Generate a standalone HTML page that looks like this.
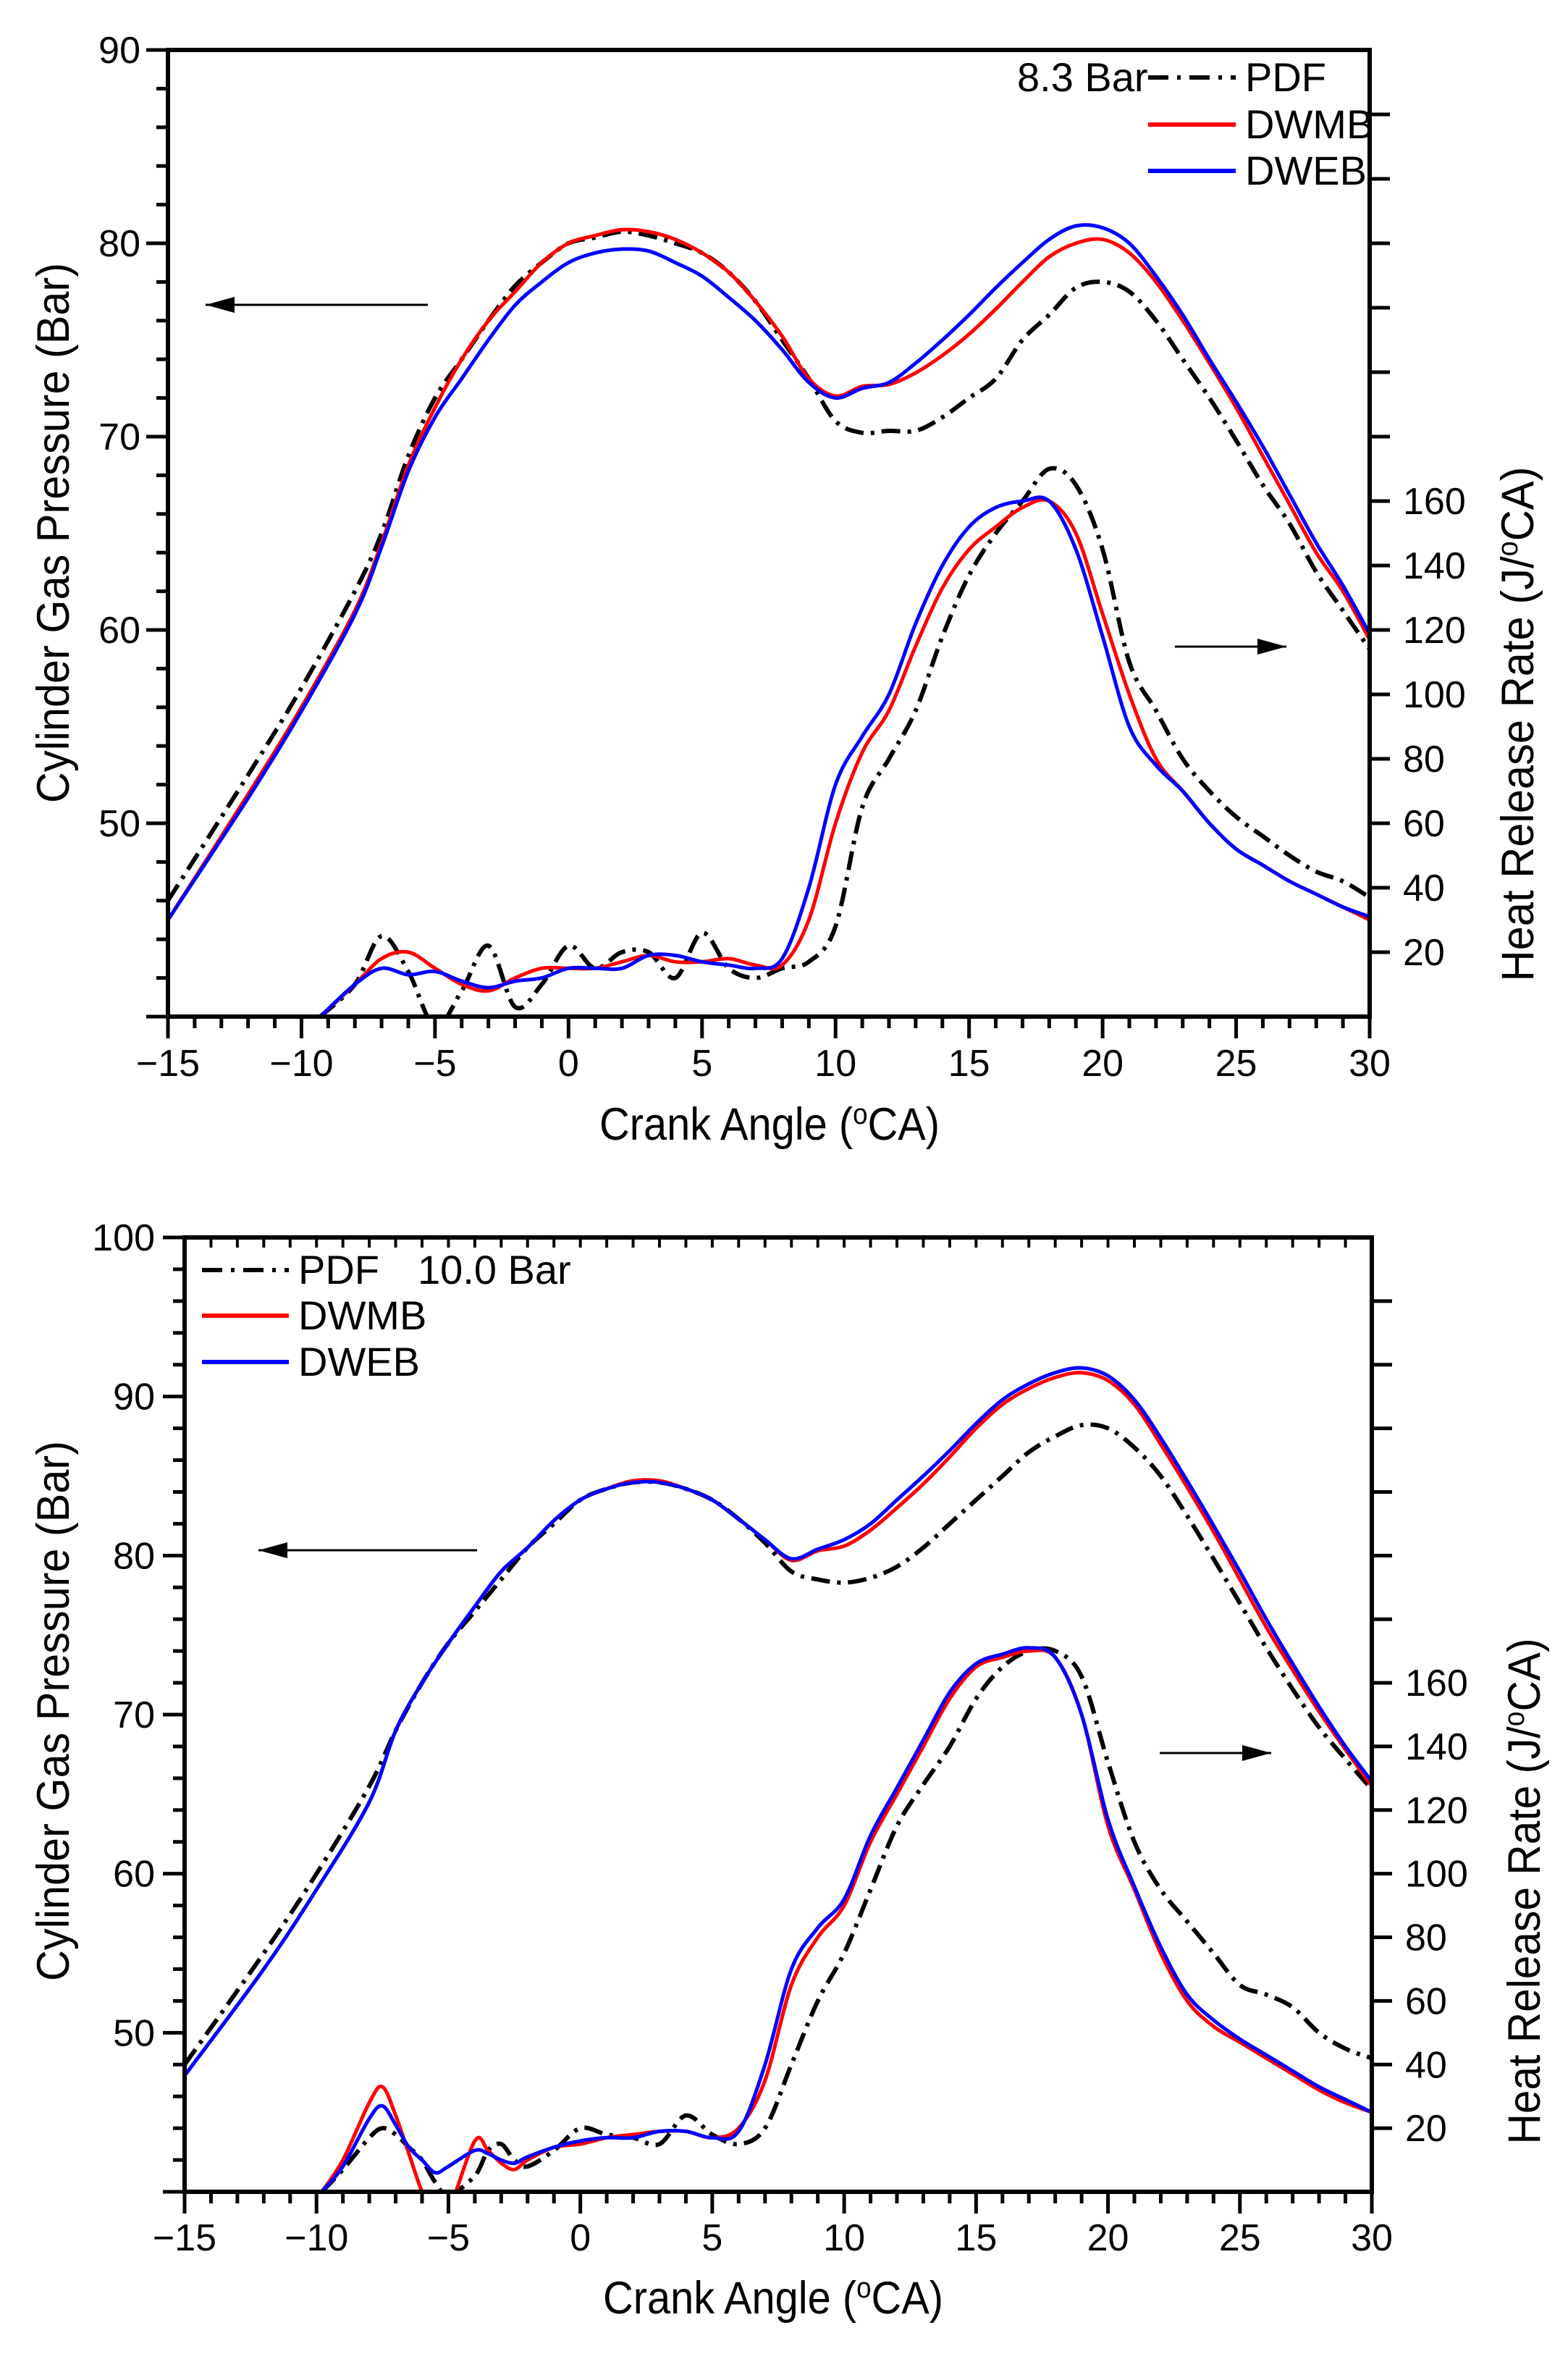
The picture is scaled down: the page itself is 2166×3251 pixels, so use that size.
<!DOCTYPE html>
<html><head><meta charset="utf-8"><style>
html,body{margin:0;padding:0;background:#fff;}
svg{display:block;font-family:"Liberation Sans Narrow","Liberation Sans",Arial,sans-serif;}
</style></head><body>
<svg id="fig" width="2166" height="3251" viewBox="0 0 2166 3251" xmlns="http://www.w3.org/2000/svg"></svg>
<script>
// ---------- shared data ----------
const xTickLabels = [-15,-10,-5,0,5,10,15,20,25,30];
const hrrTickLabels = [20,40,60,80,100,120,140,160];

// ---------- chart A (8.3 bar) ----------
const aAngles = [-15,-12,-10,-8,-7,-6,-5,-4,-3,-2,-1,0,1,2,3,4,5,6,7,8,9,10,11,12,13,14,15,16,17,18,19,20,21,22,23,24,25,26,27,28,29,30];
const aPdfP   = [46,52.5,57,62,65,69,72,74,76,77.8,79,80,80.3,80.6,80.4,80,79.5,78.5,77,75,73,70.8,70.2,70.3,70.3,71,72,73,75,76.3,77.7,78,77.5,76,74,72,69.8,67.5,65.5,63,61,59];
const aDwmbP  = [45,51.5,56,61,64.5,68.5,71.5,74,76,77.5,79,80,80.4,80.7,80.6,80.2,79.5,78.5,77,75.2,73,72.1,72.6,72.7,73.3,74.2,75.3,76.6,78,79.3,80,80.2,79.5,78,76,73.8,71.5,69,66.5,64,62,59.5];
const aDwebP  = [45,51.3,55.8,60.8,64.3,68.2,71,73,75,76.8,78,79,79.5,79.7,79.6,79,78.3,77.2,76,74.5,72.8,72,72.5,72.8,73.8,75,76.3,77.7,79,80.2,80.9,80.8,80,78.3,76.3,74,71.8,69.5,67,64.5,62.3,59.8];
const aHAngles = [-9.3,-8,-7,-6,-5,-4,-3,-2,-1,0,1,2,3,4,5,6,7,8,9,10,11,12,13,14,15,16,17,18,19,20,21,22,23,24,25,26,27,28,29,30];
const aPdfH    = [0,10,25,14,-3,8,22,3,10,22,15,20,20,12,26,15,12,15,17,28,65,80,95,118,137,150,160,170,165,145,110,95,80,70,62,56,50,45,42,37];
const aDwmbH   = [0,10,18,20,15,10,8,12,15,15,15,17,19,17,17,18,16,16,30,60,82,95,115,133,145,152,158,160,150,125,100,80,70,60,52,47,42,38,34,30];
const aDwebH   = [0,10,15,13,14,11,9,11,12,15,15,15,19,19,17,16,15,18,40,72,87,100,122,140,152,158,160,160,145,118,90,78,70,60,52,47,42,38,34,31];

// ---------- chart B (10.0 bar) ----------
const bAngles = [-15,-12,-10,-8,-7,-6,-5,-4,-3,-2,-1,0,1,2,3,4,5,6,7,8,9,10,11,12,13,14,15,16,17,18,19,20,21,22,23,24,25,26,27,28,29,30];
const bPdfP   = [48,55,60,65.5,69,72,74.5,76.5,78.5,80.5,82,83.5,84.2,84.6,84.6,84.2,83.5,82.3,80.8,79,78.5,78.3,78.6,79.3,80.5,82,83.5,85,86.5,87.5,88.2,88,86.8,85,82.5,79.8,77,74.2,71.6,69.2,67.2,65.3];
const bDwmbP  = [47.3,54,59,64.5,69,72,74.5,76.8,79,80.5,82.2,83.5,84.2,84.7,84.7,84.2,83.5,82.3,81,79.7,80.3,80.6,81.6,83,84.5,86.2,88,89.5,90.5,91.2,91.5,91,89.5,87,84.3,81.5,78.5,75.5,72.8,70.2,67.8,65.5];
const bDwebP  = [47.3,54,59,64.5,69,72,74.5,76.8,79,80.5,82.2,83.5,84.2,84.6,84.6,84.2,83.5,82.3,81,79.8,80.4,81,82,83.5,85,86.6,88.3,89.8,90.8,91.5,91.8,91.3,89.8,87.4,84.7,81.9,79,76,73.2,70.5,68,65.8];
const bHAngles = [-9.8,-9,-8,-7.5,-7,-6.5,-6,-5.5,-5,-4,-3.5,-3,-2.5,-2,-1,0,1,2,3,4,5,6,7,8,9,10,11,12,13,14,15,16,17,18,19,20,21,22,23,24,25,26,27,28,29,30];
const bPdfH    = [0,7,17,20,18,14,10,3,-1,5,13,15,10,8,13,20,18,17,15,24,18,15,20,40,60,75,95,115,128,140,155,165,170,170,162,135,110,95,85,75,65,62,58,50,45,42];
const bDwmbH   = [0,10,28,33,24,12,0,-8,-6,16,13,9,7,10,14,15,17,18,19,19,17,20,35,65,80,90,110,125,140,155,165,168,170,168,150,115,95,75,60,52,47,42,37,32,28,25];
const bDwebH   = [0,8,23,27,21,14,10,6,8,13,12,10,9,11,14,16,17,17,19,19,17,19,40,70,83,92,112,127,142,157,166,169,171,168,150,117,96,77,62,54,48,43,38,33,29,25];

const NS = "http://www.w3.org/2000/svg";
const svg = document.getElementById('fig');
function mk(tag, attrs, parent){ const e=document.createElementNS(NS,tag); for(const k in attrs) e.setAttribute(k,attrs[k]); (parent||svg).appendChild(e); return e; }

function smoothPath(pts){
  let d = `M${pts[0][0].toFixed(1)},${pts[0][1].toFixed(1)}`;
  for(let i=0;i<pts.length-1;i++){
    const p0=pts[Math.max(0,i-1)], p1=pts[i], p2=pts[i+1], p3=pts[Math.min(pts.length-1,i+2)];
    const c1=[p1[0]+(p2[0]-p0[0])/6, p1[1]+(p2[1]-p0[1])/6];
    const c2=[p2[0]-(p3[0]-p1[0])/6, p2[1]-(p3[1]-p1[1])/6];
    d += ` C${c1[0].toFixed(1)},${c1[1].toFixed(1)} ${c2[0].toFixed(1)},${c2[1].toFixed(1)} ${p2[0].toFixed(1)},${p2[1].toFixed(1)}`;
  }
  return d;
}

function chart(cfg){
  const g = mk('g',{});
  
  
  const L=cfg.L,R=cfg.R,T=cfg.T,B=cfg.B;
  const xS = v => L + (v+15)/45*(R-L);
  const yP = v => B - (v-cfg.pMin)/(cfg.pMax-cfg.pMin)*(B-T);
  const yH = v => B - v/300*(B-T);
  const clipId = cfg.name+'-clip';
  const defs = mk('defs',{},g);
  const cp = mk('clipPath',{id:clipId},defs);
  mk('rect',{x:L,y:T,width:R-L,height:B-T},cp);

  const series = [
    [cfg.ax, cfg.pdfP, '#000', 'pdf-pressure', yP, true],
    [cfg.ax, cfg.dwmbP, '#ff0000', 'dwmb-pressure', yP, false],
    [cfg.ax, cfg.dwebP, '#0000ff', 'dweb-pressure', yP, false],
    [cfg.hx, cfg.pdfH, '#000', 'pdf-heat-release', yH, true],
    [cfg.hx, cfg.dwmbH, '#ff0000', 'dwmb-heat-release', yH, false],
    [cfg.hx, cfg.dwebH, '#0000ff', 'dweb-heat-release', yH, false]
  ];
  const order=[0,3,1,4,2,5];
  order.forEach(i=>{
    const s=series[i];
    const pts = s[0].map((a,j)=>[xS(a), s[4](s[1][j])]);
    const p = mk('path',{d:smoothPath(pts),fill:'none',stroke:s[2],'stroke-width':s[5]?6:5,'clip-path':`url(#${clipId})`,'stroke-dasharray':s[5]?'26,10,5,10':'none','stroke-linejoin':'round'},g);
    
    
  });

  const fr = mk('rect',{x:L,y:T,width:R-L,height:B-T,fill:'none',stroke:'#000','stroke-width':6},g);
  
  

  for(let v=-15; v<=30; v++){
    const major = v%5===0;
    mk('line',{x1:xS(v),x2:xS(v),y1:B,y2:B+(major?30:16),stroke:'#000','stroke-width':5},g);
    if(cfg.topTicks) mk('line',{x1:xS(v),x2:xS(v),y1:T,y2:T+14,stroke:'#000','stroke-width':4},g);
  }
  xTickLabels.forEach(v=>{
    const t=mk('text',{x:xS(v),y:cfg.xLabY,'font-size':52,'text-anchor':'middle'},g);
    t.textContent = v<0 ? '\u2212'+Math.abs(v) : String(v);
    
    
  });
  for(let v=cfg.pMin; v<=cfg.pMax; v+=2){
    const major = v%10===0;
    mk('line',{x1:L,x2:L-(major?30:16),y1:yP(v),y2:yP(v),stroke:'#000','stroke-width':5},g);
  }
  for(let v=cfg.pMin+10; v<=cfg.pMax; v+=10){
    const t=mk('text',{x:cfg.yLabR,y:yP(v)+18,'font-size':52,'text-anchor':'end'},g);
    t.textContent=String(v);
    
    
  }
  for(let v=20; v<=280; v+=20){
    mk('line',{x1:R,x2:R+28,y1:yH(v),y2:yH(v),stroke:'#000','stroke-width':5},g);
  }
  hrrTickLabels.forEach(v=>{
    const t=mk('text',{x:R+46,y:yH(v)+18,'font-size':52},g);
    t.textContent=String(v);
    
    
  });
  let t=mk('text',{x:cfg.xTitleX,y:cfg.xTitleY,'font-size':63,'text-anchor':'middle',textLength:470,lengthAdjust:'spacingAndGlyphs'},g);
  t.innerHTML='Crank Angle (<tspan dy="-22" font-size="40">o</tspan><tspan dy="22">CA)</tspan>';
   
  t=mk('text',{x:0,y:0,'font-size':63,'text-anchor':'middle',transform:`translate(${cfg.yTitleX},${cfg.yTitleY}) rotate(-90)`,textLength:746,lengthAdjust:'spacingAndGlyphs'},g);
  t.textContent='Cylinder Gas Pressure (Bar)';
   
  t=mk('text',{x:0,y:0,'font-size':63,'text-anchor':'middle',transform:`translate(${cfg.y2TitleX},${cfg.y2TitleY}) rotate(-90)`,textLength:cfg.y2Len,lengthAdjust:'spacingAndGlyphs'},g);
  t.innerHTML='Heat Release Rate  (J/<tspan dy="-22" font-size="40">o</tspan><tspan dy="22">CA)</tspan>';
   

  cfg.arrows.forEach(a=>{
    const ag=mk('g',{},g);
    
    
    mk('line',{x1:a.x1,y1:a.y,x2:a.x2,y2:a.y,stroke:'#000','stroke-width':3},ag);
    const dir = a.x2>a.x1?1:-1;
    mk('polygon',{points:`${a.x2},${a.y} ${a.x2-dir*40},${a.y-11} ${a.x2-dir*40},${a.y+11}`,fill:'#000'},ag);
  });

  const lg=mk('g',{},g);
  
  
  const lw=cfg.legend;
  const items=[['PDF','#000',true],['DWMB','#ff0000',false],['DWEB','#0000ff',false]];
  items.forEach((it,i)=>{
    const y=lw.ys[i];
    const e=mk('g',{},lg);
    
    
    mk('line',{x1:lw.x1,x2:lw.x2,y1:y,y2:y,stroke:it[1],'stroke-width':6,'stroke-dasharray':it[2]?'28,12,5,12':'none'},e);
    const tx=mk('text',{x:lw.tx,y:y+19,'font-size':56},e);
    tx.textContent=it[0];
  });
  const bt=mk('text',{x:lw.barX,y:lw.ys[0]+19,'font-size':56},lg);
  bt.textContent=lw.bar;
}

chart({name:'chart-8-3-bar',L:232,R:1892,T:69,B:1404,pMin:40,pMax:90,
  ax:aAngles,pdfP:aPdfP,dwmbP:aDwmbP,dwebP:aDwebP,hx:aHAngles,pdfH:aPdfH,dwmbH:aDwmbH,dwebH:aDwebH,
  xLabY:1486,yLabR:194,xTitleX:1063,xTitleY:1574,yTitleX:95,yTitleY:736,y2TitleX:2118,y2TitleY:1000,y2Len:711,topTicks:false,
  arrows:[{name:'left-axis-arrow',x1:591,x2:284,y:421},{name:'right-axis-arrow',x1:1623,x2:1777,y:893}],
  legend:{x1:1586,x2:1707,ys:[107,172,236],tx:1720,barX:1405,bar:'8.3 Bar'}});

chart({name:'chart-10-0-bar',L:255,R:1895,T:1709,B:3027,pMin:40,pMax:100,
  ax:bAngles,pdfP:bPdfP,dwmbP:bDwmbP,dwebP:bDwebP,hx:bHAngles,pdfH:bPdfH,dwmbH:bDwmbH,dwebH:bDwebH,
  xLabY:3108,yLabR:214,xTitleX:1068,xTitleY:3195,yTitleX:95,yTitleY:2363,y2TitleX:2127,y2TitleY:2612,y2Len:699,topTicks:true,
  arrows:[{name:'left-axis-arrow',x1:659,x2:357,y:2141},{name:'right-axis-arrow',x1:1602,x2:1756,y:2421}],
  legend:{x1:279,x2:399,ys:[1754,1817,1881],tx:412,barX:577,bar:'10.0 Bar'}});
</script>
</body></html>
